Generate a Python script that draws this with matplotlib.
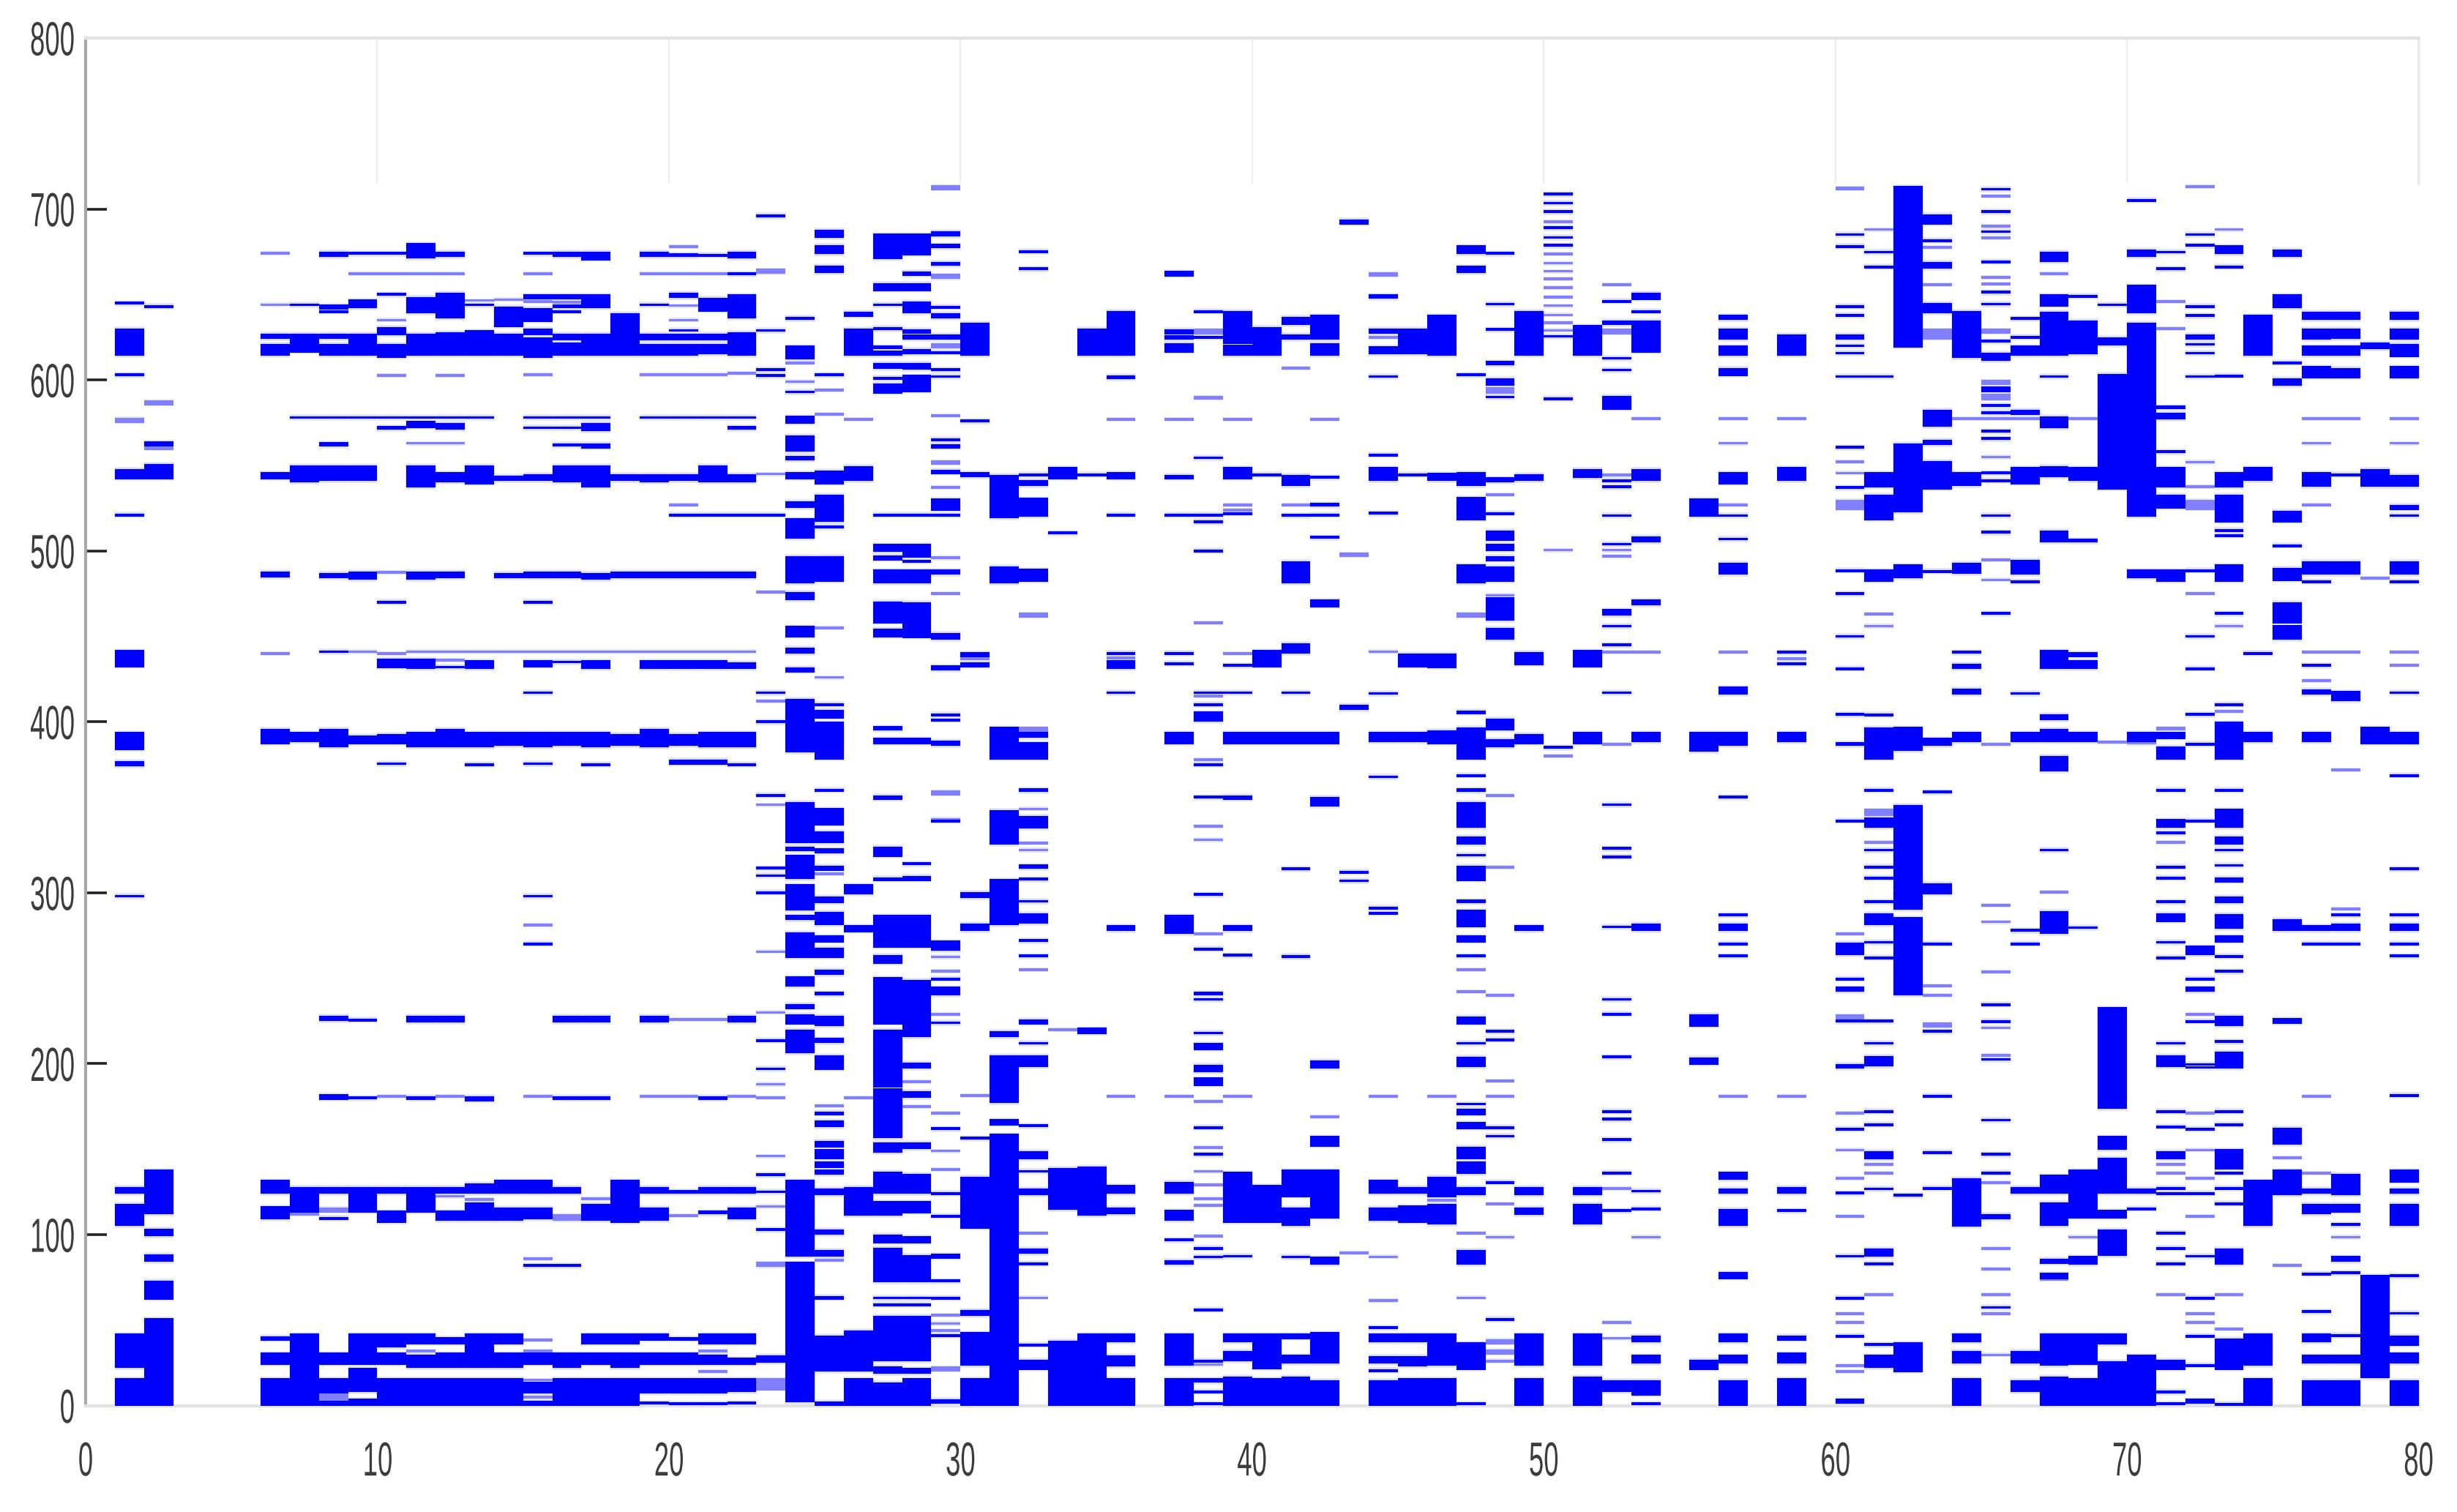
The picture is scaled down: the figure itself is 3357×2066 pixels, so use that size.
import matplotlib
matplotlib.use("Agg")
import matplotlib.pyplot as plt
from matplotlib.patheffects import AbstractPathEffect
from matplotlib.transforms import Affine2D

X_TICKS = [0, 10, 20, 30, 40, 50, 60, 70, 80]
Y_TICKS = [0, 100, 200, 300, 400, 500, 600, 700, 800]
GRID_TICKS = [10, 20, 30, 40, 50, 60, 70]

# number = single thin row, pair = (low, high) block of rows.  c = solid, l = faint rows.
c01 = [645, (630, 614), 603, (548, 542), 521, (442, 432), (394, 383.5), (377, 374), 298, (128, 124), (118, 105), (42, 22), (16, 0)]
l01 = [(578, 575)]
c02 = [643, (564, 561), (551, 542), (138, 112), (103.5, 99), (88.5, 84), (73, 62), (51, 0)]
l02 = [(588, 585), (561, 559)]
c06 = [(627, 624), (621, 614), (546, 542), (488, 484.5), (396, 387), (40.6, 38), (31, 24), (16, 0), (132, 124), (116.5, 109)]
l06 = [674, 644, 440]
c07 = [644, (627, 616), 578, (550, 540), (394, 388), (128, 113), (42, 0)]
l07 = [112]
c08 = [(675, 672), (644, 641), 640, (627, 624), (621, 614), 578, (563.5, 561), (550, 541), (487, 484), 441, (396, 385), (228, 225), (182, 179), (128, 124), 109.5, (31, 24), (16, 7), (3, 0)]
l08 = [(116, 113), (7, 3)]
c09 = [674, (647, 642), (627, 614), 578, (550, 541), (488, 483), (392, 387), 225.5, 180, (128, 113), (42, 24), (22, 8), (4, 0)]
l09 = [662, 441]
c10 = [674, 650, (631, 626), (621, 613), 578, (573, 571), 470, (437, 431.5), (393, 387), 375.5, (128, 124), (114, 107), (42, 34), (31, 24), (16, 0)]
l10 = [662, 635, 602.5, 487.5, 440, 181]
c11 = [(680, 671), (648.6, 639), (627, 614), 578, (576, 572), (550, 537), (488, 483), (437, 431), (394, 385), (228, 224), (181, 179), (128, 113), (42, 36), (30, 22), (16, 0)]
l11 = [662, 563, 441, 32]
c12 = [(675, 672), (651, 636), (628, 614), 578, (575, 571), (546, 540), (488, 484), 432, (396, 385), (228, 224), (128, 124), (114, 108), (40, 36), (31, 22), (16, 0)]
l12 = [662, 602.5, 563, 441, 436, 181, 122.5]
c13 = [644, (629, 614), 578, (550, 539), (436, 431), (394, 385), 375, (181, 178), (130, 124), (119, 108), (42, 22), (16, 0)]
l13 = [646.5, 441, 120.5]
c14 = [(643, 631), (627, 614), (544, 541), (487, 484), (394, 386), (132, 124), (116, 108), (42, 36), (31, 22), (16, 0)]
l14 = [441, 647]
c15 = [674, (650, 647), (642, 634), (630, 626), (625, 613), 578, 572, (545, 541), (488, 484), 470, (436, 432), 417, (394, 385), 375.5, 298, 270, (132, 124), (116, 109), 82, (31, 24), (14, 7), (3, 0)]
l15 = [662, 646, 603, 441, 281, 181, 86, 38.5, 32, 15, 5]
c16 = [(675, 672), (650, 647), (644, 642), 640, (627, 623), (622, 614), 578, 572, (563, 561), (550, 540), (488, 484), 435, (394, 386), (228, 224), (181, 179), (128, 124), 82, (31, 22), (16, 0)]
l16 = [645.5, 441, (112, 108)]
c17 = [(675, 670), (650, 642), (627, 614), 578, (575, 570), (563, 560), (550, 537), (487, 483), (436, 431), (394, 385), 375, (228, 224), (181, 179), (118, 108), (42, 36), (31, 24), (16, 0)]
l17 = [441, 121]
c18 = [(639, 614), (545, 541), (488, 484), (393, 386), (132, 107), (42, 36), (31, 22), (16, 0)]
l18 = [441]
c19 = [(675, 672), 644, (627, 623), (621, 614), 578, (545, 540), (488, 484), (436, 431), (396, 385), (228, 224), (128, 124), (116, 108), (42, 38), (31, 24), (16, 7), 1.5]
l19 = [662, 603, 441, 181]
c20 = [(674, 672), (651, 648), 629, (627, 623), (621, 614), 578, (545, 541), (488, 484), 521, (436, 431), (393, 386), (378, 375), (126, 124), (40, 38), (31, 24), (16, 7), 1]
l20 = [678, 662, 643.5, 635, 603, 441, 527, 226, 181, 111]
c21 = [673, (648, 640), (627, 623), (621, 615), 578, (550, 540), (488, 484), 521, (436, 431), (394, 385), (378, 375), (181, 179), (128, 124), (114, 112), (42, 36), (30, 24), (16, 7), 1]
l21 = [662, 603, 441, 226, 32, 20]
c22 = [(675, 671), 662, (650, 636), (628, 614), 578, (573, 571), (545, 540), (488, 484), 521, (435, 431), (394, 385), 375, (228, 224), (128, 124), (116, 109), (42, 36), (28, 24), (16, 8), 1.5]
l22 = [604, 441, 181]
c23 = [(697, 695), 629, 606, 602.5, 521, 417, 400, 357, 314.5, 310, 300, 213.5, 197, 135, 125, 103, (29.5, 25)]
l23 = [(665, 662), 545, 476, 412, 351.5, 265.5, 230, 188, 180, 146, 116.5, (84, 81), (16, 9)]
c24 = [(637, 635), (620, 612), 593, (579, 574.5), (567.5, 558), (555.5, 553), (546, 542), (529, 525), (519, 507), (497, 481), (476, 471), (456, 449.5), (443.5, 440), (432, 429), (413.6, 382), (353, 329), (327, 324.5), (322, 308), (305, 289.5), (287, 284), (277, 262), (251, 245), (235, 232), (229, 223), (220, 206), (132, 87), (84, 2)]
l24 = [610, 599]
c25 = [(688, 683), (679, 673.6), (667, 662.5), 603, (547, 539), (533, 517), (515, 513), (497, 482), 410, (407, 402), (400, 378), 360, (349.5, 339.5), (336, 329), (326, 323), (316, 313), (298, 294), (289, 281), (275, 271), (268, 262), (255, 252), (242, 240), (228, 222), (215, 212), (205, 196.5), (172, 170), (167, 163), (155, 151), (150, 144), (143, 139), (138, 135), (127, 123), (103, 100), (91, 87), (64, 62), (41, 20), (2.5, 0)]
l25 = [594, 580, 455, 426, 311, 175.5, 85]
c26 = [(640, 637), (630, 614), (549.5, 541), (305, 299), (281, 277), (128, 111), (44, 20), (16, 0)]
l26 = [577, 180]
c27 = [(685.6, 670.6), (656.7, 652), 644, (631, 629), (620, 618), (617, 614), (610, 606.5), 601, (598, 592), 521, (504, 499.5), (497.5, 494.5), (489, 481), (470.4, 457.6), (454.6, 449.5), (397.5, 395), (390.5, 387), (357, 354.5), (327, 321), (309, 307), (287, 268), (263.5, 258.6), (250.5, 223), (220, 186), (185.5, 156.4), (154, 148), (137, 124), (119.5, 111), (100, 95), (92.4, 72), 63, 59, (52.5, 26), (23, 18.5), (13.5, 0)]
l27 = []
c28 = [(685.6, 673), (663.6, 661), (656.7, 652), (646, 639), (629.6, 627), (626.6, 623.6), (618, 615), (610, 606), (603, 593), 521, (504, 496), 494, (489, 481), (470, 449), (390.5, 387), 317, (310, 307), (287, 268), (249, 215.5), (200.7, 197), (184, 180), (154, 150), (135.5, 124), (119.5, 112.5), (99, 95), (88, 72), 63, 59, (52.5, 26), (22, 18.5), (16, 0)]
l28 = [189.5, 175]
c29 = [(687, 684), (679.6, 677), (669, 666.7), (643.5, 641.7), (639, 636), (626.6, 623.6), 616, 606, 602, 565, (562.5, 560), (547.5, 545), (530.5, 523.6), 521, (489, 486), (452, 448), (433, 430), 404, 401, (389, 386), 342, (272, 266), 249.5, (245, 240), 224, 162, 124, 110.8, (88.7, 86), 73, 62.8, 41, (3.7, 1)]
l29 = [(714, 711), (662, 659), (621.5, 618.5), 579, (553, 550.5), 537, (497, 495), 475, (360, 357), 343, 262.5, 254, 229, 171, 149, 138, 53, 48, 44, (23, 20)]
c30 = [(633.5, 614), 576, (546, 543), (440.6, 438), (435, 432), (300.5, 297), (282, 277.6), 156.4, (134, 103.5), (56, 52.5), (43, 23.4), (16, 0)]
l30 = [437, 181.5]
c31 = [(544.5, 519), (491, 481), (397, 378), (348.5, 328), (308, 281), (219, 215.5), (205, 177), (167.5, 164), (159, 0)]
l31 = []
c32 = [675, 665, 544.5, (541.5, 538), (531, 520), (489.5, 482), (394, 390.5), (388, 378), (361, 359), (345, 337.5), (316.5, 314), 308, 295, (288, 282), 272, 263, (226, 223), 212, (205, 198), 163.8, (149, 144), 137, (127, 123), (92, 88.7), 83, 35.5, (27, 21)]
l32 = [(464, 461), (397, 394), 349, 329, 325, 255, 146, 101, 63]
c33 = [(549, 542), 510.5, (139, 114.5), (38, 0)]
l33 = [220]
c34 = [(630, 614), 544.5, (221, 217.5), (140, 111), (42, 0)]
l34 = []
c35 = [(640.5, 614), (546, 542), (602.8, 600.5), 521, (441, 439), (436, 431), 417, (281, 277.6), (129, 124), (116, 112), (42, 37), (29.5, 23), (16, 0)]
l35 = [577, 437.5, 181]
c37 = [(663.7, 660.6), (629.6, 626.6), (626, 623.6), (621.5, 616), (544.5, 542), 521, 440, 434, (394, 387), (287, 276), (131, 124), (114.5, 108), 97, (85, 82.5), (42, 23.4), (16, 0)]
l37 = [577, 181]
c38 = [640, 625, 554.5, 521, (518, 516), 500, 417, 410, (406, 400), 375, 356, 299, 267, (242, 240), 237.7, 218, (212, 208), (199.5, 195), (192, 187), 162.6, 147, 92, 87, 56, 26, (16, 13.5), 8, 1]
l38 = [(630, 626.6), (590.7, 588.6), 458, 415, 378, 339, 331, 276, 178, 151, 137, 129, 121, 117, 99, 24]
c39 = [(640.5, 621), (620.8, 614), (549, 542), 521.8, 433, 417, (394, 387), (357, 354.5), (281, 277.6), 263.5, (136.7, 107), 87.4, (42, 37), (32, 26), (17, 0)]
l39 = [577, 527, 524, 440, 181]
c40 = [(631, 614), 544.5, (442, 432), (394, 387), (129, 107), (42, 21.4), (16, 0)]
l40 = []
c41 = [(637, 632), (626.6, 623.6), (544.5, 538), 520.8, (494, 481), (446, 440), 417, (394, 387), 314, 262.7, (138, 122), (116, 105), 87, (42, 39), (29.6, 24.6), (17, 0)]
l41 = [607, 527]
c42 = [(638, 623.6), (621.5, 614), 543, (528, 526), 521, 508, (471.5, 467), (394, 387), (356, 350.5), (202, 197), (157.6, 151.5), (138, 109.6), (87, 82.5), (43, 24.6), (14.8, 0)]
l42 = [577, 169]
c43 = [(694, 691), (410, 407), 312, 307]
l43 = [(499, 496.5), 89.4]
c44 = [(650, 647.4), (630, 627), (619.7, 615), 602, 556, (549, 541), 522, 416.6, (394, 388), 367.8, 291, 288, (132, 124), (116, 108), 45.6, (42, 37), (29, 24.6), 20.4, (14.8, 0)]
l44 = [(663, 660.6), 625, 441, 181, 87, 61.5]
c45 = [(630, 615), 544.5, (440, 432), (394, 388), (128, 124), (117, 107), (42, 37), (29, 23), (16, 0)]
l45 = []
c46 = [(638, 614), (545.6, 541), (440, 431.5), (395, 387), (134, 122), (118, 106), (42, 23.4), (16, 0)]
l46 = [181, 120]
c47 = [(678.7, 673.6), (666.7, 662.5), 603, (546, 538), (531.5, 518), (492, 481), (406.7, 404.5), (396.8, 378), 368.5, (361, 359), (353, 338), (333, 328), 322, (316, 307), (296, 294), (290, 280), (275, 271), 263, (227.8, 223), 212, (204, 198), (177, 175.6), (173.6, 170), (165.8, 161.8), (151.5, 144), (143, 135.5), (128, 123), (91, 82.5), (37, 21), 1]
l47 = [(464, 461), 255, 242, 101, 63]
c48 = [674, 644.4, 629.6, (611, 608.6), (601, 596.5), 590, (543, 540), 521.8, (512, 506), (504, 500), (497, 494), (491, 482), (472.7, 459), (455, 448), (402, 395), (390, 385), 219, 214, 162.6, 157.6, 130.5, 50.5]
l48 = [(595.8, 592), 533, 474, 357, 315, 240, 190, 181, 118, 98.5, (39, 36), (33, 30), (27, 25)]
c49 = [(640.5, 614), (545, 541), (441, 433.3), (393, 387), (281, 277.6), (128, 123), (115.8, 111.6), (42, 23.4), (16, 0)]
l49 = []
c50 = [708.8, 703.5, 698.4, 689, 683.3, 678.7, 625.5, 589, 385]
l50 = [692.6, 673.6, 668.3, 663.6, 659, 654, 648.6, 643.5, 638, 633.6, 629, 500.5, 380]
c51 = [(632, 614), (548, 542.6), (442, 432), (394, 387), (128, 123), (118, 106), (42, 23.4), (17, 0)]
l51 = []
c52 = [646, (634.7, 632), 612.7, 605.8, (590.7, 582.6), 541, 537.5, 520.6, 504, (466, 462), 456, 445, 417, 351.5, 326, 321, 280, 237.7, 229, 204, 172, 167.5, 155.6, 136, 114, (14.8, 8)]
l52 = [655.6, (630, 626.6), 544.4, 500.5, 497, 440.7, 387, 127, 48.5, 39.4]
c53 = [(651, 646.8), 640, (634.7, 616), (548, 541), (508.6, 505), (471.5, 468), (394, 388), (282, 277.6), 125.5, 115, (41, 37), (29.6, 24.6), (14.8, 6), 1]
l53 = [577.3, 440.7, 98.5]
c55 = [(530.5, 520), (394, 382.5), (229, 221.7), (203.7, 199.5), (27, 21)]
l55 = []
c56 = [(638, 635), (630, 623.6), (620, 614), (607, 602.3), (546, 539), 520.6, 507, (493, 486), (420.6, 416), (394, 386), 356, 287, (282, 277.6), 270, 263, (136.7, 132), (127, 124), (115, 105), (78, 74), (42, 37), (29.6, 24.6), (14.8, 0)]
l56 = [577.3, 563, 527, 440.7, 181]
c58 = [(626.6, 614), (549, 541), 440.7, 434, (394, 388), (128, 124), 114, (41, 38), (31, 24.6), (16, 0)]
l58 = [577.3, 181, 437]
c60 = [685, 678, 643, 637.8, (626.6, 623.6), 620, 615.7, 602, 560.6, 537, 488.4, 475, 450, 431, 404.4, (388, 386), 342, (271, 263.5), 249.5, (245, 242), (226, 224), 199, 197.8, 161.8, 124.4, 87.4, 62.8, 40.6, (4, 1)]
l60 = [(713, 711), 552, 545.5, (530, 524), 276, (229, 226), 171, 149.5, 133, 110.8, 53.7, 48.5, 23.4, 20]
c61 = [674.8, 666, 602, (546, 537), (533, 518), (489, 482), 404, (396.8, 378), 360, (344, 338), 325, 315, 308.6, 294.8, (288, 281), 271, 262, 225, 212, (204.5, 198.3), 172, 164.3, (149, 144), 126.8, (91.9, 87), 83, 35.7, (29.6, 22)]
l61 = [688, 463, 456, (349, 345), 329.6, 147, 141, 136, 64.8]
c62 = [(713.4, 619), (563, 522.5), (492, 484), (397, 383), (351.5, 290), (285.7, 240), 123, (37, 19.7)]
l62 = []
c63 = [(697, 691), 681.5, (669, 665), (645, 639), (582.6, 572.6), (565, 561.8), (552.5, 536), 488, (390.5, 386), 359, (305.5, 299), 270, 219, 181, 148, 127]
l63 = [677.5, 655.6, (630, 623.6), 245.6, 240, (224, 221)]
c64 = [(640.5, 612.7), (546, 538), (493, 486.5), 440.7, (434, 431), (419.4, 416), (394, 388), (133, 104.7), (42, 37), (32, 24.6), (16, 0)]
l64 = [577.3]
c65 = [711.6, 698.4, 686.8, 669, 651.4, 644.4, 622.7, (616, 611), (596, 593), 585, 580.8, 570, 565.7, 545.6, 541, 520.6, 510.9, 463.4, 234.5, 224.6, 202.5, 167, 147, 136, 57.4, (112, 109)]
l65 = [707.6, 690, 683, 660, 656, (630, 627), (600, 597), (592, 588), 577.3, 554.9, 494.7, 483, 387, 292.6, 283, 253.7, 221, 205, 130.5, 91.9, 80, 64.8, 53.7, 29.6]
c66 = [636, 625, (620, 614), (582.6, 579.6), (549, 539), (494.7, 486), 482, 416.6, (394, 388), 278, 270, (128, 124), (32, 24.6), (14.8, 8)]
l66 = [577.3]
c67 = [(675, 669), (650, 643), (640, 614), 602, (578.7, 571.6), (549.5, 543), (512, 505), (442, 431), (404.5, 401), (396, 388), (380, 371), 325, (289.4, 276), (135, 124), (119, 105), (86, 83), (77.6, 74), (42, 23.4), (17, 0)]
l67 = [662, 300.5, 74]
c68 = [649, (634.7, 615), (549, 541), (507, 505), (440.7, 438), (436, 431), (394, 388), 279.6, (138, 109.6), (87.4, 82.5), (42, 24), (16, 0)]
l68 = [577.3, 98.5]
c69 = [644, (625, 620), (603.5, 536), (233, 173.6), (157.6, 149.5), (145, 124), (114.5, 109.6), (103, 87.4), (42, 35.7), (26, 0)]
l69 = [388, 577.3]
c70 = [705, (676.4, 672), (655.6, 639), (633.6, 520), (489, 484), (394, 388), (127, 124), 115, (29.6, 0)]
l70 = [387.5]
c71 = [674.8, 665, (585, 583), (581, 577), 558, (549, 537), (533, 524.8), (489, 482), (394, 390), (385.6, 378), 360, (343, 338), 335, 315, 308.6, 294.8, (288, 283), 271, 262, 212, (205, 198), 172, 163, (149, 144), 127, 124, 101, 92, 83, (27, 21), (9, 7), 1]
l71 = [646, 630, (397, 395), 329.6, 141, 136, 64.8]
c72 = [685, 678.7, 643, 637.7, (626.6, 623.6), 620.8, 615.7, 602, 488.4, 450, 431, 404.4, 387, 342, (269, 263.5), 249.5, (245, 242), 224.6, 199.5, 197.8, 161.8, 124, 87.4, 62.8, 40.6, 23.4, (4, 1)]
l72 = [713, 551.9, 537.5, (530, 524), 475, 171, 149.5, 133, 110.8, 229, 53.7, 48.5]
c73 = [(678.7, 673.6), 666, 602.3, (546, 537), (533, 516.7), 512, 509, (492, 482), 463.4, 410, (400, 378), 360, (349, 338), (333, 328), 325, 316, (309, 306), (298, 294), (287.5, 279), (275, 271), 262.8, 254, (228, 222), 213, (207, 197), 172, 164.3, (150, 138), 136, 127, 118, (91.9, 82.5), (39.4, 21), 0.7]
l73 = [688, 456, 406, 64.8, 44.8]
c74 = [(638, 614), (549, 541), 440, (394, 388), (132, 105), (42, 23.4), (16, 0)]
l74 = []
c75 = [(676.4, 672), (650, 642), 610, (601, 596.5), (523.6, 516.7), 503, (490, 482.5), (470, 457.6), (456.5, 448), (284.5, 277.6), (226.6, 223.4), (162.6, 152.7), (138, 123)]
l75 = [145, 82]
c76 = [(640, 635), (630, 623.6), (620, 614), (608, 601), (546, 537.5), (494, 486), 482, 433, (419, 416), (394, 388), (281, 277.6), 270, (127, 124), (118, 112), 77, 55, (42, 37), (29.6, 24.6), (14.8, 0)]
l76 = [577.3, 563, 527, 440.7, 424, 181, 136]
c77 = [(640, 635), (630, 624), (620, 614), (607, 601), 544.5, (494, 486), (418, 412), 287, (282, 277.6), 270, (135.5, 123), (118, 113), 106, (87.4, 84), 77.6, 41, (29.6, 24.6), (14.8, 0)]
l77 = [577.3, 440.7, 372, 290.5, 98.5]
c78 = [(622, 618), (548, 537.5), (397, 387), (76.4, 16)]
l78 = [484]
c79 = [(640, 635), (630, 623.6), (621, 613.5), (608, 601), (544.5, 537.5), (527, 524), 520.6, (494, 486), 482, 417, (394, 387), 368.5, 314, 287, (282, 277.6), 270, 263, 181.5, (138, 130.5), (127, 124), (118, 105), 76, 54, (41, 35), (31, 24.6), (14.8, 0)]
l79 = [577.3, 563, 440.7, 433]

SOLID = {1: c01, 2: c02, 6: c06, 7: c07, 8: c08, 9: c09, 10: c10, 11: c11, 12: c12, 13: c13, 14: c14, 15: c15, 16: c16, 17: c17, 18: c18, 19: c19, 20: c20, 21: c21, 22: c22, 23: c23, 24: c24, 25: c25, 26: c26, 27: c27, 28: c28, 29: c29, 30: c30, 31: c31, 32: c32, 33: c33, 34: c34, 35: c35, 37: c37, 38: c38, 39: c39, 40: c40, 41: c41, 42: c42, 43: c43, 44: c44, 45: c45, 46: c46, 47: c47, 48: c48, 49: c49, 50: c50, 51: c51, 52: c52, 53: c53, 55: c55, 56: c56, 58: c58, 60: c60, 61: c61, 62: c62, 63: c63, 64: c64, 65: c65, 66: c66, 67: c67, 68: c68, 69: c69, 70: c70, 71: c71, 72: c72, 73: c73, 74: c74, 75: c75, 76: c76, 77: c77, 78: c78, 79: c79}
FAINT = {1: l01, 2: l02, 6: l06, 7: l07, 8: l08, 9: l09, 10: l10, 11: l11, 12: l12, 13: l13, 14: l14, 15: l15, 16: l16, 17: l17, 18: l18, 19: l19, 20: l20, 21: l21, 22: l22, 23: l23, 24: l24, 25: l25, 26: l26, 27: l27, 28: l28, 29: l29, 30: l30, 31: l31, 32: l32, 33: l33, 34: l34, 35: l35, 37: l37, 38: l38, 39: l39, 40: l40, 41: l41, 42: l42, 43: l43, 44: l44, 45: l45, 46: l46, 47: l47, 48: l48, 49: l49, 50: l50, 51: l51, 52: l52, 53: l53, 55: l55, 56: l56, 58: l58, 60: l60, 61: l61, 62: l62, 63: l63, 64: l64, 65: l65, 66: l66, 67: l67, 68: l68, 69: l69, 70: l70, 71: l71, 72: l72, 73: l73, 74: l74, 75: l75, 76: l76, 77: l77, 78: l78, 79: l79}


class Squeeze(AbstractPathEffect):
    """Draw text narrower, as in the horizontally compressed reference."""
    def __init__(self, factor, anchor):
        super().__init__()
        self.factor = factor
        self.anchor = anchor

    def draw_path(self, renderer, gc, tpath, affine, rgbFace=None):
        box = tpath.get_extents(affine)
        x0 = box.x1 if self.anchor == "right" else 0.5 * (box.x0 + box.x1)
        t = affine + Affine2D().translate(-x0, 0).scale(self.factor, 1).translate(x0, 0)
        renderer.draw_path(gc, tpath, t, rgbFace)


def spans(items):
    out = []
    for it in items:
        if isinstance(it, tuple):
            lo, hi = min(it), max(it)
            out.append((lo, hi - lo))
        else:
            out.append((it - 0.8, 1.6))
    return out


W, H = 3357, 2066
fig = plt.figure(figsize=(W / 100, H / 100), dpi=100, facecolor="white")
L, R, T, B = 117, 3304.5, 52, 1920.6
ax = fig.add_axes([L / W, 1 - B / H, (R - L) / W, (B - T) / H])
ax.set_xlim(0, 80)
ax.set_ylim(0, 800)

for k, items in FAINT.items():
    for lo, h in spans(items):
        ax.broken_barh([(k, 1)], (lo - 0.5, h + 1), facecolor="#e4e4ff", edgecolor="none", zorder=3)
        ax.broken_barh([(k, 1)], (lo, h), facecolor="#7f7fff", edgecolor="none", zorder=3.5)
for k, items in SOLID.items():
    for lo, h in spans(items):
        ax.broken_barh([(k, 1)], (lo - 0.7, h + 1.4), facecolor="#d2d2ff", edgecolor="#e4e4ff", linewidth=1.2, zorder=3.2)
for k, items in SOLID.items():
    for lo, h in spans(items):
        ax.broken_barh([(k, 1)], (lo, h), facecolor="#0000ff", edgecolor="none", zorder=4)

ax.vlines(GRID_TICKS, 715, 800, color="#ededed", linewidth=1.6, zorder=1)

ax.spines["left"].set_color("#a8a8a8")
ax.spines["left"].set_linewidth(3)
for s in ("top", "bottom", "right"):
    ax.spines[s].set_color("#e2e2e2")
    ax.spines[s].set_linewidth(3)
ax.spines["right"].set_bounds(715, 800)
ax.spines["right"].set_color("#ececec")

ax.set_xticks(X_TICKS)
ax.set_yticks(Y_TICKS)
ax.tick_params(axis="x", length=0, pad=35)
ax.tick_params(axis="y", direction="in", length=21, width=2.6, color="#222222", pad=10)
for lab in ax.get_xticklabels():
    lab.set(fontfamily="Liberation Sans", fontsize=47, color="#3c3c3c")
    lab.set_path_effects([Squeeze(0.56, "center")])
for lab in ax.get_yticklabels():
    lab.set(fontfamily="Liberation Sans", fontsize=47, color="#3c3c3c")
    lab.set_path_effects([Squeeze(0.56, "right")])

fig.savefig("out.png", dpi=100, facecolor="white")
